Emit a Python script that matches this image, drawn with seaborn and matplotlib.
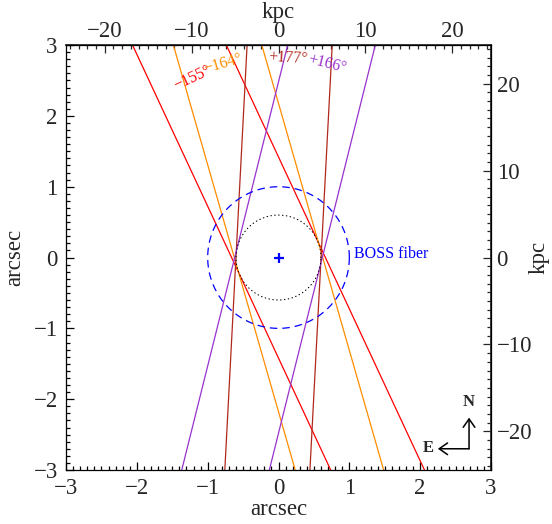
import numpy as np
import pandas as pd
import matplotlib
matplotlib.use("Agg")
import matplotlib.pyplot as plt
from matplotlib.ticker import MultipleLocator
import seaborn as sns

# slit position angles (deg) and their colours
pa_list = [-155, -164, 177, 166]
pa_labels = ["\u2212155\u00b0", "\u2212164\u00b0", "+177\u00b0", "+166\u00b0"]
pa_colors = ["#ff0000", "#ff8c00", "#b0281c", "#9932cc"]
slit_halfwidth = 0.6      # arcsec
fiber_radius = 1.0        # arcsec (BOSS fiber)
kpc_per_arcsec = 8.15

# label positions in arcsec
label_x = [-1.21, -0.79, 0.14, 0.68]
label_y = [2.54, 2.73, 2.81, 2.73]

sns.set_theme(style="ticks")
plt.rcParams["font.family"] = ["Liberation Serif", "DejaVu Serif"]
plt.rcParams["axes.unicode_minus"] = True

FS = 16.5

fig = plt.figure(figsize=(5.52, 5.24), dpi=100)
ax = fig.add_axes([0.1196, 0.103, 0.7699, 0.811])

# slit edges: two parallel lines per PA, offset +-halfwidth from centre
rows = []
for pa in pa_list:
    t = np.radians(pa)
    d = np.array([-np.sin(t), np.cos(t)])       # x to the west (E left)
    n = np.array([d[1], -d[0]])
    for side in (-1, 1):
        c = side * slit_halfwidth * n
        for s in (-5, 5):
            p = c + s * d
            rows.append({"pa": pa, "edge": f"{pa}_{side}", "x": p[0], "y": p[1]})
edges = pd.DataFrame(rows)

sns.lineplot(data=edges, x="x", y="y", hue="pa", units="edge", estimator=None,
             sort=False, palette=dict(zip(pa_list, pa_colors)), hue_order=pa_list,
             lw=0.9, legend=False, ax=ax)

th = np.linspace(0, 2 * np.pi, 400)
ax.plot(fiber_radius * np.cos(th), fiber_radius * np.sin(th), color="blue",
        lw=0.9, dashes=(6, 4))
ax.plot(slit_halfwidth * np.cos(th), slit_halfwidth * np.sin(th), color="black",
        lw=0.8, dashes=(0.5, 3.0), dash_capstyle="round")
ax.plot([0], [0], marker="+", color="blue", ms=7, mew=1.6)
ax.text(1.06, 0.0, "BOSS fiber", color="blue", fontsize=11.5, va="baseline", ha="left")

for lab, lx, ly, pa, col in zip(pa_labels, label_x, label_y, pa_list, pa_colors):
    rot = (pa % 360) - 180
    ax.text(lx, ly, lab, color=col, fontsize=11.5, rotation=rot,
            ha="center", va="center", rotation_mode="anchor")

# compass
cx, cy, alen = 2.69, -2.70, 0.44
arw = dict(arrowstyle="->,head_length=0.5,head_width=0.35", color="black", lw=1.1,
           shrinkA=0, shrinkB=0)
ax.annotate("", xy=(cx, cy + alen), xytext=(cx, cy), arrowprops=arw)
ax.annotate("", xy=(cx - alen, cy), xytext=(cx, cy), arrowprops=arw)
ax.text(cx - 0.01, cy + alen + 0.22, "N", fontsize=12, fontweight="bold", ha="center", va="center")
ax.text(cx - alen - 0.14, cy + 0.01, "E", fontsize=12, fontweight="bold", ha="center", va="center")

ax.set_xlim(-3, 3)
ax.set_ylim(-3, 3)
ax.set_xlabel("arcsec", fontsize=FS, va="baseline")
ax.set_ylabel("arcsec", fontsize=FS)
ax.xaxis.set_label_coords(0.5, -0.106)
ax.yaxis.set_label_coords(-0.095, 0.5)
ax.xaxis.set_major_locator(MultipleLocator(1))
ax.xaxis.set_minor_locator(MultipleLocator(0.1))
ax.yaxis.set_major_locator(MultipleLocator(1))
ax.yaxis.set_minor_locator(MultipleLocator(0.1))
ax.tick_params(which="both", direction="in", top=False, right=False, labelsize=FS,
               pad=6, width=0.9, color="black")
ax.tick_params(which="major", length=6)
ax.tick_params(which="minor", length=3)
for sp in ax.spines.values():
    sp.set_linewidth(0.9)
    sp.set_color("black")

f = (lambda v: v * kpc_per_arcsec, lambda v: v / kpc_per_arcsec)
top = ax.secondary_xaxis("top", functions=f)
right = ax.secondary_yaxis("right", functions=f)
for sec, axis in ((top, top.xaxis), (right, right.yaxis)):
    axis.set_major_locator(MultipleLocator(10))
    axis.set_minor_locator(MultipleLocator(1))
    sec.tick_params(which="both", direction="in", labelsize=FS, pad=4, width=0.9)
    sec.tick_params(which="major", length=6)
    sec.tick_params(which="minor", length=3)
top.tick_params(axis="x", pad=2)
ax.text(0.5, 1.064, "kpc", transform=ax.transAxes, fontsize=FS, ha="center", va="baseline")
ax.text(1.112, 0.5, "kpc", transform=ax.transAxes, fontsize=FS, ha="center", va="center",
        rotation=90)

fig.savefig("out.png", dpi=100)
